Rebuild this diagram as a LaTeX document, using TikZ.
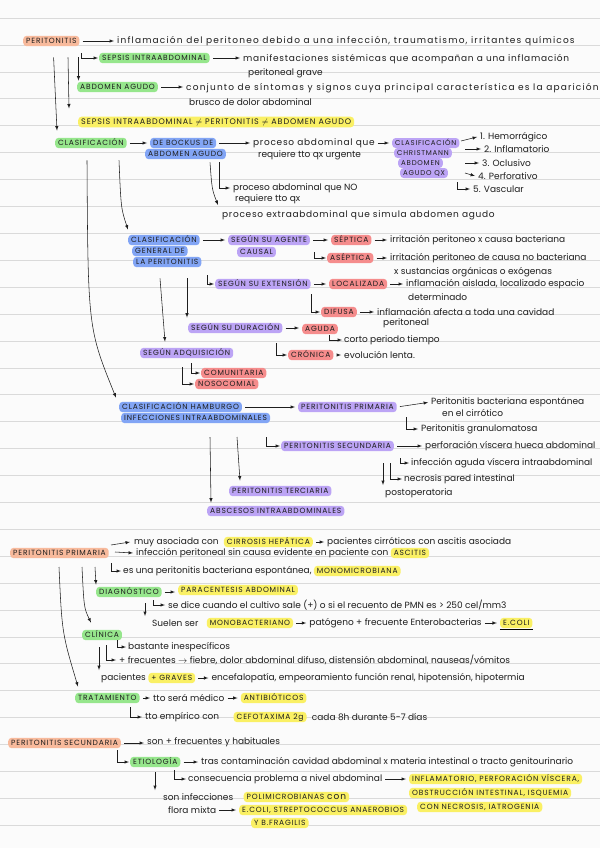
\documentclass[tikz,border=0pt]{standalone}
\usepackage{fontspec}
\usepackage{amsmath}
\usetikzlibrary{positioning,calc}
\setmainfont{Poppins}
\newfontfamily\handwide[LetterSpace=13]{Poppins}
\newfontfamily\handmid[LetterSpace=8]{Poppins}
\newfontfamily\capsfam[LetterSpace=11]{Poppins}
\definecolor{paper}{RGB}{251,251,251}
\definecolor{rulegray}{RGB}{218,218,218}
\definecolor{ink}{RGB}{30,30,30}
\definecolor{hlorange}{RGB}{248,186,156}
\definecolor{hlgreen}{RGB}{150,230,140}
\definecolor{hlyellow}{RGB}{250,240,100}
\definecolor{hlblue}{RGB}{130,165,245}
\definecolor{hlpurple}{RGB}{188,164,245}
\definecolor{hlred}{RGB}{245,140,140}
\newcommand{\notefont}{\fontsize{9}{10}\selectfont}
\newcommand{\notewidefont}{\handwide\fontsize{9}{10}\selectfont}
\newcommand{\notemidfont}{\handmid\fontsize{9}{10}\selectfont}
\newcommand{\capsfont}{\capsfam\fontsize{7.5}{8}\selectfont}
\tikzset{
  hl/.style={anchor=west, rounded corners=3.5pt, inner xsep=3pt, inner ysep=2.5pt,
    text height=5.4pt, text depth=0pt, font=\capsfont, text=ink},
  orangehl/.style={hl, fill=hlorange},
  greenhl/.style={hl, fill=hlgreen},
  yellowhl/.style={hl, fill=hlyellow},
  bluehl/.style={hl, fill=hlblue},
  purplehl/.style={hl, fill=hlpurple},
  redhl/.style={hl, fill=hlred},
  tightcaps/.style={font=\capsfam\fontsize{7}{8}\selectfont, text height=5pt},
  bigcaps/.style={font=\capsfam\fontsize{8}{9}\selectfont, text height=5.7pt},
  txt/.style={anchor=west, inner sep=0pt, font=\notefont, text=ink},
  widetxt/.style={txt, font=\notewidefont},
  midtxt/.style={txt, font=\notemidfont},
  arr/.style={->, line width=0.55pt, draw=ink},
  link/.style={arr, shorten <=3pt, shorten >=3pt},
  ruleline/.style={draw=rulegray, line width=0.6pt},
}
\begin{document}
\begin{tikzpicture}[x=1pt,y=-1pt,>=latex]
\useasboundingbox (0,0) rectangle (600,848);
\fill[paper] (0,0) rectangle (600,848);
% ruled paper
\foreach \k in {-1,...,29}
  \draw[ruleline] (0,{45+26.9*\k}) -- (600,{45+26.9*\k});

% ============================================
% PERITONITIS
% ============================================
        \node[orangehl] (peri) at (23,41) {PERITONITIS};
        \node[widetxt] (periDef) at (117,41) {inflamación del peritoneo debido a una infección, traumatismo, irritantes químicos};
        \draw[link] (peri.east) -- (peri.east -| periDef.west);
        % sepsis
        \node[greenhl] (sepsisIA) at (99,58) {SEPSIS INTRAABDOMINAL};
        \node[midtxt] (sepsisDef) at (243,59) {manifestaciones sistémicas que acompañan a una inflamación};
        \node[txt] (sepsisDef2) at (248,73) {peritoneal grave};
        \draw[arr] ($(peri.south east)+(2,7)$) |- ($(sepsisIA.west)+(-1,0)$);
        \draw[link] (sepsisIA.east) -- (sepsisIA.east -| sepsisDef.west);
        % abdomen agudo
        \node[greenhl] (abdAg) at (77,87) {ABDOMEN AGUDO};
        \node[widetxt] (abdDef) at (186,88) {conjunto de síntomas y signos cuya principal característica es la aparición};
        \node[txt] (abdDef2) at (189,102) {brusco de dolor abdominal};
        \draw[arr] ($(peri.south west)+(55.5,11)$) -- ($(abdAg.north west)+(1.5,-1)$);
        \draw[link] (abdAg.east) -- (abdAg.east -| abdDef.west);
        % not equal
        \node[yellowhl, bigcaps] (noIgual) at (78,122) {SEPSIS INTRAABDOMINAL $\neq$ PERITONITIS $\neq$ ABDOMEN AGUDO};
        \draw[arr] ($(peri.south west)+(45,11)$) -- ($(noIgual.north west)+(-9,-8)$);

% ============================================
% CLASIFICACION
% ============================================
        \node[greenhl] (clasif) at (55,143) {CLASIFICACIÓN};
        \draw[arr] ($(peri.south west)+(30.6,11)$) -- ($(clasif.north west)+(2,-7)$);
        % Bockus
        \node[bluehl] (bockus) at (150,143) {DE BOCKUS DE};
        \node[bluehl] (bockus2) at (145,154) {ABDOMEN AGUDO};
        \draw[link] (clasif.east) -- (clasif.east -| bockus.west);
        \node[midtxt] (bockQx) at (253,143) {proceso abdominal que};
        \node[txt] (bockQx2) at (258,155) {requiere tto qx urgente};
        \draw[link] (bockus.east) -- (bockus.east -| bockQx.west);
        % Christmann
        \node[purplehl, tightcaps] (christ1) at (392,143) {CLASIFICACIÓN};
        \node[purplehl, tightcaps] (christ2) at (394,153) {CHRISTMANN};
        \node[purplehl, tightcaps] (christ3) at (398,163) {ABDOMEN};
        \node[purplehl, tightcaps] (christ4) at (400,173) {AGUDO QX};
        \draw[link] (bockQx.east) -- (bockQx.east -| christ1.west);
        \node[txt] (hemo) at (480,137) {1. Hemorrágico};
        \node[txt] (inflam) at (484,149) {2. Inflamatorio};
        \node[txt] (oclus) at (482,163) {3. Oclusivo};
        \node[txt] (perfo) at (478,176) {4. Perforativo};
        \node[txt] (vasc) at (473,189) {5. Vascular};
        \draw[arr] ($(christ1.west)+(69,-2)$) -- ($(hemo.west)+(-3,0)$);
        \draw[arr] ($(christ1.west)+(73,6)$) -- ($(inflam.west)+(-3,0)$);
        \draw[arr] ($(christ1.west)+(73,20)$) -- ($(oclus.west)+(-3,0)$);
        \draw[arr] ($(christ1.west)+(73,30)$) -- ($(perfo.west)+(-3,0)$);
        \draw[arr] ($(christ1.west)+(65,39)$) |- ($(vasc.west)+(-3,0)$);
        % no quirurgico
        \node[txt] (noQx) at (233,188) {proceso abdominal que NO};
        \node[txt] (noQx2) at (235,199) {requiere tto qx};
        \node[midtxt] (extra) at (222,215) {proceso extraabdominal que simula abdomen agudo};
        \draw[arr] ($(bockus2.south west)+(74,3)$) |- ($(noQx.west)+(-3,0)$);
        \draw[arr] ($(bockus2.south west)+(65,3)$) .. controls ($(bockus2.south west)+(67,30)$) .. ($(extra.west)+(-4,-10)$);

% ============================================
% CLASIFICACION GENERAL
% ============================================
        \node[bluehl] (genA) at (128,240) {CLASIFICACIÓN};
        \node[bluehl] (genB) at (132,251) {GENERAL DE};
        \node[bluehl] (genC) at (133,262) {LA PERITONITIS};
        \draw[arr] ($(clasif.south west)+(64,12)$) .. controls ($(clasif.south west)+(66,60)$) .. ($(genA.north west)+(0,-5)$);
        % agente causal
        \node[purplehl] (agente) at (228,240) {SEGÚN SU AGENTE};
        \node[purplehl] (agente2) at (237,252) {CAUSAL};
        \draw[link] (genA.east) -- (genA.east -| agente.west);
        \node[redhl] (septica) at (331,240) {SÉPTICA};
        \node[txt] (septDef) at (390,240) {irritación peritoneo x causa bacteriana};
        \draw[link] (agente.east) -- (agente.east -| septica.west);
        \draw[link] (septica.east) -- (septica.east -| septDef.west);
        \node[redhl] (aseptica) at (327,258) {ASÉPTICA};
        \node[txt] (aseptDef) at (390,258) {irritación peritoneo de causa no bacteriana};
        \node[txt] (aseptDef2) at (394,272) {x sustancias orgánicas o exógenas};
        \draw[arr] ($(agente.west)+(86,12)$) |- ($(aseptica.west)+(-1,0)$);
        \draw[link] (aseptica.east) -- (aseptica.east -| aseptDef.west);
        % extension
        \node[purplehl] (extension) at (215,284) {SEGÚN SU EXTENSIÓN};
        \draw[arr] ($(genC.south west)+(74,8)$) |- ($(extension.west)+(-1,0)$);
        \node[redhl] (localizada) at (329,284) {LOCALIZADA};
        \node[txt] (localDef) at (406,284) {inflamación aislada, localizado espacio};
        \node[txt] (localDef2) at (408,297) {determinado};
        \draw[link] (extension.east) -- (extension.east -| localizada.west);
        \draw[link] (localizada.east) -- (localizada.east -| localDef.west);
        \node[redhl] (difusa) at (321,312) {DIFUSA};
        \node[txt] (difDef) at (377,312) {inflamación afecta a toda una cavidad};
        \node[txt] (difDef2) at (383,323) {peritoneal};
        \draw[arr] ($(extension.west)+(96,10)$) |- ($(difusa.west)+(-1,0)$);
        \draw[link] (difusa.east) -- (difusa.east -| difDef.west);
        % duracion
        \node[purplehl] (duracion) at (188,328) {SEGÚN SU DURACIÓN};
        \draw[arr] ($(genC.south west)+(54,11)$) -- ($(duracion.north west)+(-1,-5)$);
        \node[redhl] (aguda) at (302,329) {AGUDA};
        \node[txt] (corto) at (344,340) {corto periodo tiempo};
        \draw[link] (duracion.east) -- (duracion.east -| aguda.west);
        \draw[arr] ($(aguda.west)+(27,6)$) |- ($(corto.west)+(-2,0)$);
        \node[redhl] (cronica) at (288,355) {CRÓNICA};
        \node[txt] (cronDef) at (344,355) {evolución lenta.};
        \draw[arr] ($(duracion.west)+(88,15)$) |- ($(cronica.west)+(-1,0)$);
        \draw[link] (cronica.east) -- (cronica.east -| cronDef.west);
        % adquisicion
        \node[purplehl] (adquis) at (140,353) {SEGÚN ADQUISICIÓN};
        \draw[arr] ($(genC.south west)+(27,11)$) -- ($(adquis.north west)+(25,-6)$);
        \node[redhl] (comunit) at (201,373) {COMUNITARIA};
        \node[redhl] (nosoc) at (195,384) {NOSOCOMIAL};
        \draw[arr] ($(adquis.west)+(51,10)$) |- ($(comunit.west)+(-1,0)$);
        \draw[arr] ($(adquis.west)+(42,14)$) |- ($(nosoc.west)+(-1,0)$);

% ============================================
% CLASIFICACION HAMBURGO
% ============================================
        \node[bluehl] (hamb1) at (119,407) {CLASIFICACIÓN HAMBURGO};
        \node[bluehl] (hamb2) at (121,418) {INFECCIONES INTRAABDOMINALES};
        \draw[arr] ($(clasif.south west)+(32,12)$) .. controls ($(clasif.south west)+(33,180)$) .. ($(hamb1.north west)+(-3,-4)$);
        % primaria
        \node[purplehl] (primaria) at (298,407) {PERITONITIS PRIMARIA};
        \draw[link] (hamb1.east) -- (hamb1.east -| primaria.west);
        \node[txt] (pbe) at (431,402) {Peritonitis bacteriana espontánea};
        \node[txt] (pbe2) at (442,413) {en el cirrótico};
        \draw[link] (primaria.east) -- (pbe.west);
        \node[txt] (granul) at (421,429) {Peritonitis granulomatosa};
        \draw[arr] ($(primaria.west)+(108,10)$) |- ($(granul.west)+(-3,0)$);
        % secundaria
        \node[purplehl] (secund) at (281,446) {PERITONITIS SECUNDARIA};
        \draw[arr] ($(hamb2.west)+(145,19)$) |- ($(secund.west)+(-1,0)$);
        \node[txt] (perfor) at (425,446) {perforación víscera hueca abdominal};
        \draw[link] (secund.east) -- (secund.east -| perfor.west);
        \node[txt] (infAg) at (411,463) {infección aguda víscera intraabdominal};
        \node[txt] (necro) at (404,479) {necrosis pared intestinal};
        \node[txt] (postop) at (385,493) {postoperatoria};
        \draw[arr] ($(secund.west)+(119,12)$) |- ($(infAg.west)+(-2,0)$);
        \draw[arr] ($(secund.west)+(109,17)$) |- ($(necro.west)+(-2,0)$);
        \draw[arr] ($(secund.west)+(102,17)$) -- ($(postop.west)+(-2,-8)$);
        % terciaria y abscesos
        \node[purplehl] (terciaria) at (229,491) {PERITONITIS TERCIARIA};
        \node[purplehl] (absc) at (207,511) {ABSCESOS INTRAABDOMINALES};
        \draw[arr] ($(hamb2.west)+(116,19)$) -- ($(terciaria.north west)+(11,-5)$);
        \draw[arr] ($(hamb2.west)+(89,19)$) -- ($(absc.north west)+(4,-3)$);

% ============================================
% PERITONITIS PRIMARIA
% ============================================
        \node[orangehl] (primII) at (10,553) {PERITONITIS PRIMARIA};
        \node[txt] (asociada) at (134,542) {muy asociada con};
        \node[yellowhl, right=5pt of asociada] (cirrosis) {CIRROSIS HEPÁTICA};
        \node[txt, right=14pt of cirrosis] (cirrot) {pacientes cirróticos con ascitis asociada};
        \draw[arr] ($(primII.west)+(101,-8)$) -- ($(asociada.west)+(-4,0)$);
        \draw[link] (cirrosis) -- (cirrot);
        \node[txt] (sinCausa) at (136,553) {infección peritoneal sin causa evidente en paciente con};
        \node[yellowhl, right=2pt of sinCausa] (ascitis) {ASCITIS};
        \draw[arr] ($(primII.west)+(105,-1)$) -- ($(sinCausa.west)+(-3,0)$);
        \node[txt] (pbeMono) at (123,571) {es una peritonitis bacteriana espontánea,};
        \node[yellowhl, right=2pt of pbeMono] (mono) {MONOMICROBIANA};
        \draw[arr] ($(primII.west)+(101,10)$) |- ($(pbeMono.west)+(-2,0)$);
        % diagnostico
        \node[greenhl] (diag) at (96,592) {DIAGNÓSTICO};
        \draw[arr] ($(primII.west)+(85,14)$) -- ($(diag.north west)+(0,-2)$);
        \node[yellowhl] (parac) at (178,590) {PARACENTESIS ABDOMINAL};
        \draw[link] (diag.east) -- (diag.east -| parac.west);
        \node[txt] (cultivo) at (168,605) {se dice cuando el cultivo sale (+) o si el recuento de PMN es > 250 cel/mm3};
        \draw[arr] ($(diag.west)+(57,8)$) |- ($(cultivo.west)+(-3,0)$);
        \node[txt] (suelen) at (152,623) {Suelen ser};
        \node[yellowhl, right=8pt of suelen] (monobac) {MONOBACTERIANO};
        \node[txt, right=16pt of monobac] (patog) {patógeno + frecuente Enterobacterias};
        \node[yellowhl, right=18pt of patog] (ecoli) {E.COLI};
        \draw[arr] ($(diag.west)+(49,11)$) -- ($(suelen.west)+(-7,-7)$);
        \draw[link] (monobac) -- (patog);
        \draw[link] (patog) -- (ecoli);
        \draw[line width=0.7pt] ($(ecoli.south west)+(0,1)$) -- ($(ecoli.south east)+(0,1)$);
        % clinica
        \node[greenhl] (clinica) at (82,635) {CLÍNICA};
        \draw[arr] ($(primII.west)+(72,14)$) .. controls ($(primII.west)+(74,55)$) .. ($(clinica.north west)+(9,-7)$);
        \node[txt] (inesp) at (128,647) {bastante inespecíficos};
        \node[txt] (frec) at (119,660) {+ frecuentes $\rightarrow$ fiebre, dolor abdominal difuso, distensión abdominal, nauseas/vómitos};
        \draw[arr] ($(clinica.west)+(35,5)$) |- ($(inesp.west)+(-2,0)$);
        \draw[arr] ($(clinica.west)+(24,10)$) |- ($(frec.west)+(-3,0)$);
        \node[txt] (pacGrav) at (101,678) {pacientes};
        \node[yellowhl, right=2pt of pacGrav] (graves) {+ GRAVES};
        \node[txt, right=16pt of graves] (encef) {encefalopatía, empeoramiento función renal, hipotensión, hipotermia};
        \draw[arr] ($(clinica.west)+(17,12)$) -- ($(pacGrav.west)+(-2,-8)$);
        \draw[link] (graves) -- (encef);
        % tratamiento
        \node[greenhl] (trat) at (75,698) {TRATAMIENTO};
        \draw[arr] ($(primII.west)+(49,14)$) .. controls ($(primII.west)+(52,80)$) .. ($(trat.north west)+(3,-6)$);
        \node[txt] (medico) at (153,698) {tto será médico};
        \node[yellowhl, right=16pt of medico] (antib) {ANTIBIÓTICOS};
        \draw[link] (trat.east) -- (trat.east -| medico.west);
        \draw[link] (medico) -- (antib);
        \node[txt] (empir) at (145,717) {tto empírico con};
        \node[yellowhl, right=14pt of empir] (cefo) {CEFOTAXIMA 2g};
        \node[txt, right=5pt of cefo] (cada) {cada 8h durante 5-7 días};
        \draw[arr] ($(trat.west)+(55,9)$) |- ($(empir.west)+(-3,0)$);

% ============================================
% PERITONITIS SECUNDARIA
% ============================================
        \node[orangehl] (secII) at (8,743) {PERITONITIS SECUNDARIA};
        \node[txt] (habit) at (147,742) {son + frecuentes y habituales};
        \draw[link] (secII.east) -- (secII.east -| habit.west);
        % etiologia
        \node[greenhl] (etiol) at (130,762) {ETIOLOGÍA};
        \draw[arr] ($(secII.west)+(109,7)$) |- ($(etiol.west)+(-1,0)$);
        \node[txt] (contam) at (201,762) {tras contaminación cavidad abdominal x materia intestinal o tracto genitourinario};
        \draw[link] (etiol.east) -- (etiol.east -| contam.west);
        \node[txt] (consec) at (188,779) {consecuencia problema a nivel abdominal};
        \draw[arr] ($(etiol.west)+(44,8)$) |- ($(consec.west)+(-2,0)$);
        \node[yellowhl] (causas1) at (409,779) {INFLAMATORIO, PERFORACIÓN VÍSCERA,};
        \node[yellowhl] (causas2) at (409,793) {OBSTRUCCIÓN INTESTINAL, ISQUEMIA};
        \node[yellowhl] (causas3) at (417,807) {CON NECROSIS, IATROGENIA};
        \draw[link] (consec.east) -- (consec.east -| causas1.west);
        % flora
        \node[txt] (polim) at (163,797) {son infecciones};
        \node[yellowhl, right=10pt of polim] (polimicro) {POLIMICROBIANAS {\notefont con}};
        \draw[arr] ($(etiol.west)+(25,10)$) -- ($(polim.west)+(-8,-7)$);
        \node[txt] (flora) at (168,810) {flora mixta};
        \node[yellowhl] (germs) at (239,810) {E.COLI, STREPTOCOCCUS ANAEROBIOS};
        \node[yellowhl] (bfrag) at (251,823) {Y B.FRAGILIS};
        \draw[link] (flora.east) -- (flora.east -| germs.west);
\end{tikzpicture}
\end{document}
